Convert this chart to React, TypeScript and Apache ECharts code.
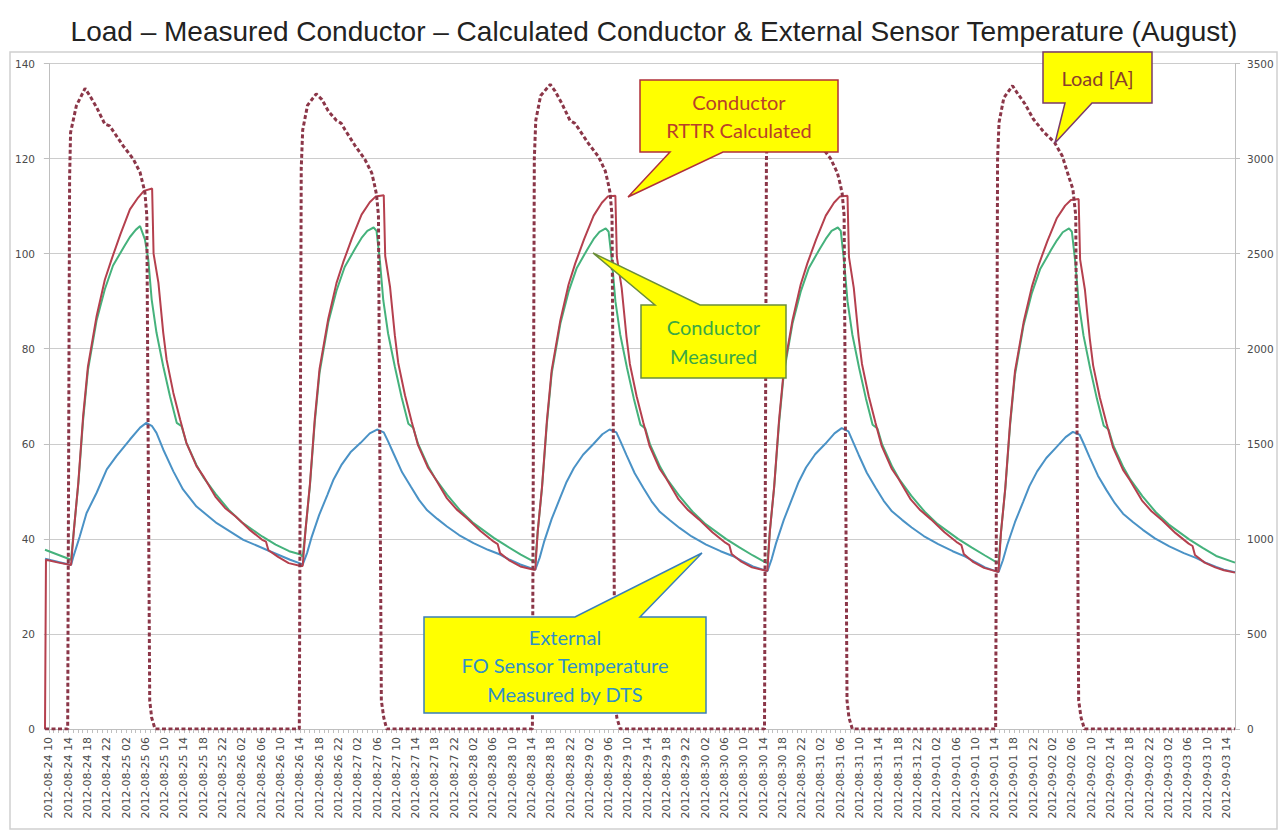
import React, { useEffect, useRef } from "react";
import * as echarts from "echarts";

const titleText = "Load – Measured Conductor – Calculated Conductor & External Sensor Temperature (August)";

const tickLabels = [
  "2012-08-24 10", "2012-08-24 14", "2012-08-24 18", "2012-08-24 22",
  "2012-08-25 02", "2012-08-25 06", "2012-08-25 10", "2012-08-25 14", "2012-08-25 18", "2012-08-25 22",
  "2012-08-26 02", "2012-08-26 06", "2012-08-26 10", "2012-08-26 14", "2012-08-26 18", "2012-08-26 22",
  "2012-08-27 02", "2012-08-27 06", "2012-08-27 10", "2012-08-27 14", "2012-08-27 18", "2012-08-27 22",
  "2012-08-28 02", "2012-08-28 06", "2012-08-28 10", "2012-08-28 14", "2012-08-28 18", "2012-08-28 22",
  "2012-08-29 02", "2012-08-29 06", "2012-08-29 10", "2012-08-29 14", "2012-08-29 18", "2012-08-29 22",
  "2012-08-30 02", "2012-08-30 06", "2012-08-30 10", "2012-08-30 14", "2012-08-30 18", "2012-08-30 22",
  "2012-08-31 02", "2012-08-31 06", "2012-08-31 10", "2012-08-31 14", "2012-08-31 18", "2012-08-31 22",
  "2012-09-01 02", "2012-09-01 06", "2012-09-01 10", "2012-09-01 14", "2012-09-01 18", "2012-09-01 22",
  "2012-09-02 02", "2012-09-02 06", "2012-09-02 10", "2012-09-02 14", "2012-09-02 18", "2012-09-02 22",
  "2012-09-03 02", "2012-09-03 06", "2012-09-03 10", "2012-09-03 14",
];

// [hours since 2012-08-24 10:00, value]
const conductorCalculated = [
  [-0.8, 0], [-0.6, 35.6], [2, 35], [4.6, 34.5], [5.2, 42], [6.1, 51.8], [7.1, 65.8], [8.1, 76.3], [9.9, 86.9], [11.6, 94.5], [13, 98.8], [14.8, 104], [16.8, 109.3], [18.5, 111.8], [19.7, 113.2], [21.4, 113.7], [21.7, 100], [22.7, 93.9], [23.7, 83.4], [24.4, 77.7], [25.8, 70.7], [27.2, 65.1], [28.5, 60.2], [30.6, 55.3], [32, 53.2], [34.5, 48.9], [36.5, 46.5], [38.7, 44.7], [41.5, 42], [44.2, 39.8], [45, 39.4], [45.5, 37.6], [47.5, 36.2], [49.7, 34.9], [52.2, 34.3],
  [52.6, 34.3], [53.2, 42], [54.1, 51.5], [55.1, 65.2], [56.1, 75.8], [57.9, 86.3], [59.6, 93.8], [61, 98.2], [62.8, 103.2], [64.8, 108.2], [66.5, 110.8], [67.7, 112], [69.4, 112.3], [69.7, 99.5], [70.7, 93], [71.7, 82.8], [72.4, 77], [73.8, 70.2], [75.2, 64.6], [76.5, 59.7], [78.6, 54.9], [80, 52.8], [82.5, 48.5], [84.5, 46.2], [86.7, 44.3], [89.5, 41.6], [92.2, 39.4], [93, 38.9], [93.5, 37], [95.5, 35.4], [97.7, 34.2], [100.5, 33.5],
  [100.8, 33.5], [101.3, 41.5], [102.2, 51], [103.2, 64.8], [104.2, 75.5], [106, 86], [107.7, 93.5], [109.1, 98], [110.9, 103], [112.9, 108], [114.6, 110.7], [115.8, 112], [117.4, 112.2], [117.7, 99.3], [118.7, 92.8], [119.7, 82.5], [120.4, 76.8], [121.8, 70], [123.2, 64.4], [124.5, 59.5], [126.6, 54.7], [128, 52.6], [130.5, 48.3], [132.5, 46], [134.7, 44.1], [137.5, 41.4], [140.2, 39.2], [141, 38.7], [141.5, 36.8], [143.5, 35.2], [145.7, 34], [148.6, 33.3],
  [148.9, 33.3], [149.4, 41.5], [150.3, 51], [151.3, 64.8], [152.3, 75.5], [154.1, 86], [155.8, 93.5], [157.2, 98], [159, 103], [161, 108], [162.7, 110.7], [163.9, 112], [165.5, 112.2], [165.8, 99.3], [166.8, 92.8], [167.8, 82.5], [168.5, 76.8], [169.9, 70], [171.3, 64.4], [172.6, 59.5], [174.7, 54.7], [176.1, 52.6], [178.6, 48.3], [180.6, 46], [182.8, 44.1], [185.6, 41.4], [188.3, 39.2], [189.1, 38.7], [189.6, 36.8], [191.6, 35.1], [193.8, 33.9], [196.5, 33.1],
  [196.8, 33.1], [197.3, 41.3], [198.2, 50.8], [199.2, 64.5], [200.2, 75.2], [202, 85.6], [203.7, 93], [205.1, 97.6], [206.9, 102.6], [208.9, 107.5], [210.6, 110.1], [211.8, 111.3], [213.4, 111.5], [213.7, 98.8], [214.7, 92.4], [215.7, 82.2], [216.4, 76.5], [217.8, 69.7], [219.2, 64.2], [220.5, 59.3], [222.6, 54.5], [224, 52.4], [226.5, 48.1], [228.5, 45.8], [230.7, 43.9], [233.5, 41.2], [236.2, 39], [237, 38.5], [237.5, 36.6], [239.5, 35], [241.7, 34], [243.5, 33.4], [245.8, 32.9],
];

const conductorMeasured = [
  [-0.8, 37.7], [4.6, 35.6], [5.2, 42], [6.1, 51.5], [7.1, 65], [8.1, 75.5], [9.9, 86], [11.6, 92.5], [13.3, 97.5], [15.6, 101.5], [16.8, 103.5], [18, 105], [18.9, 105.8], [19.9, 103], [20.6, 98.8], [21.3, 90.4], [22.3, 83.4], [23.7, 76.3], [25.1, 70], [26.5, 64.4], [27.5, 63.7], [28.5, 60.2], [30.6, 55.5], [32, 53], [34.5, 49.5], [37.3, 46.1], [40, 43.5], [44.2, 40.5], [47, 38.8], [49.8, 37.4], [52.2, 36.7],
  [52.6, 36.2], [53.2, 42], [54.1, 51.2], [55.1, 64.5], [56.1, 75], [57.9, 85.5], [59.6, 92.2], [61.3, 97.2], [63.6, 101.3], [64.8, 103.3], [66, 104.8], [67.3, 105.5], [67.9, 104.8], [68.6, 98.5], [69.3, 90.2], [70.3, 83.2], [71.7, 76.2], [73.1, 69.8], [74.5, 64.2], [75.5, 63.4], [76.5, 60], [78.6, 55.3], [80, 52.8], [82.5, 49.3], [85.3, 45.9], [88, 43.3], [92.2, 40.2], [95, 38.4], [97.8, 36.7], [100.5, 35.2],
  [100.8, 35], [101.3, 41.5], [102.2, 50.8], [103.2, 64.2], [104.2, 74.8], [106, 85.3], [107.7, 92], [109.4, 97], [111.7, 101.1], [112.9, 103.1], [114.1, 104.6], [115.4, 105.3], [116, 104.6], [116.7, 98.3], [117.4, 90], [118.4, 83], [119.8, 76], [121.2, 69.6], [122.6, 64], [123.6, 63.2], [124.6, 59.8], [126.7, 55.1], [128.1, 52.6], [130.6, 49.1], [133.4, 45.7], [136.1, 43.1], [140.3, 40], [143.1, 38.2], [145.9, 36.5], [148.6, 35],
  [148.9, 34.9], [149.4, 41.5], [150.3, 50.8], [151.3, 64.2], [152.3, 74.8], [154.1, 85.3], [155.8, 92], [157.5, 97], [159.8, 101.1], [161, 103.1], [162.2, 104.8], [163.5, 105.5], [164.1, 104.8], [164.8, 98.3], [165.5, 90], [166.5, 83], [167.9, 76], [169.3, 69.6], [170.7, 64], [171.7, 63.2], [172.7, 59.8], [174.8, 55.1], [176.2, 52.6], [178.7, 49.1], [181.5, 45.7], [184.2, 43.1], [188.4, 40], [191.2, 38.2], [194, 36.5], [196.5, 35],
  [196.8, 34.9], [197.3, 41.3], [198.2, 50.5], [199.2, 64], [200.2, 74.5], [202, 85], [203.7, 91.7], [205.4, 96.7], [207.7, 100.8], [208.9, 102.8], [210.1, 104.5], [211.4, 105.3], [212, 104.6], [212.7, 98.2], [213.4, 89.8], [214.4, 82.8], [215.8, 75.8], [217.2, 69.4], [218.6, 63.8], [219.6, 63], [220.6, 59.6], [222.7, 55], [224.1, 52.5], [226.6, 49], [229.4, 45.6], [232.1, 43], [236.3, 39.9], [239.1, 38.1], [241.9, 36.4], [245.8, 35],
];

const externalSensor = [
  [-0.8, 35.8], [4.6, 34.5], [5, 36], [6.4, 40.5], [7.8, 45.4], [9.9, 49.7], [12, 54.6], [14, 57.4], [16.8, 60.9], [18.9, 63.4], [20.2, 64.4], [21.4, 63.7], [22.3, 62.3], [23.7, 58.8], [25.8, 54.2], [27.8, 50.4], [30.6, 46.8], [34.8, 43.3], [40.3, 39.8], [45.8, 37.4], [50, 35.6], [52.2, 34.8],
  [52.6, 34.6], [53.5, 37], [54.4, 40.2], [56, 45], [57.7, 49.2], [59, 52.5], [60.6, 55.5], [62.5, 58.2], [64.6, 60.2], [66.5, 62.2], [68, 63], [69.4, 62.4], [70.3, 60.5], [71.5, 57.8], [73.2, 54], [75, 51], [76.7, 48.2], [78.4, 46], [80.5, 44.2], [82.5, 42.6], [85, 40.8], [88, 39.1], [91, 37.7], [93.5, 36.7], [95.5, 35.6], [97.7, 34.6], [100.5, 33.6],
  [100.8, 33.5], [101.7, 36], [102.6, 39.3], [104.2, 44.2], [105.9, 48.5], [107.2, 51.8], [108.8, 54.9], [110.7, 57.7], [112.8, 59.9], [114.7, 62], [116.2, 63], [117.6, 62.4], [118.5, 60.4], [119.7, 57.6], [121.4, 53.8], [123.2, 50.7], [124.9, 47.9], [126.6, 45.7], [128.7, 43.9], [130.7, 42.3], [133.2, 40.5], [136.2, 38.8], [139.2, 37.4], [141.7, 36.4], [143.7, 35.3], [145.9, 34.2], [148.6, 33.3],
  [148.9, 33.2], [149.8, 35.8], [150.7, 39.1], [152.3, 44], [154, 48.4], [155.3, 51.8], [156.9, 55], [158.8, 57.8], [160.9, 60], [162.8, 62.2], [164.3, 63.3], [165.7, 62.6], [166.6, 60.5], [167.8, 57.7], [169.5, 53.9], [171.3, 50.8], [173, 48], [174.7, 45.8], [176.8, 44], [178.8, 42.4], [181.3, 40.6], [184.3, 38.9], [187.3, 37.4], [189.8, 36.3], [191.8, 35.2], [194, 34], [196.5, 33.1],
  [196.8, 33], [197.7, 35.5], [198.6, 38.7], [200.2, 43.5], [201.9, 47.8], [203.2, 51.1], [204.8, 54.2], [206.7, 57], [208.8, 59.3], [210.7, 61.4], [212.2, 62.5], [213.6, 61.9], [214.5, 59.9], [215.7, 57.1], [217.4, 53.3], [219.2, 50.2], [220.9, 47.5], [222.6, 45.3], [224.7, 43.5], [226.7, 41.9], [229.2, 40.1], [232.2, 38.4], [235.2, 37], [237.7, 36], [239.7, 35], [241.9, 34.1], [243.5, 33.5], [245.8, 33],
];

const loadAmps = [
  [-0.8, 0], [3.9, 0], [4.3, 2900], [4.5, 3137], [5.7, 3278], [7.5, 3369], [8.5, 3330], [9.9, 3269], [11.6, 3181], [12.6, 3172], [13.3, 3146], [15.4, 3067], [17.5, 2997], [18.9, 2927], [19.5, 2865], [19.9, 2822], [20.3, 2700], [20.9, 150], [21.3, 60], [22, 0],
  [51.9, 0], [52.3, 2950], [52.6, 3150], [53.6, 3280], [55.4, 3340], [56.6, 3310], [57.9, 3250], [59.6, 3200], [60.6, 3185], [61.4, 3150], [63.4, 3070], [65.5, 2995], [66.9, 2925], [67.5, 2860], [67.9, 2810], [68.3, 2700], [68.9, 150], [69.4, 60], [70, 0],
  [100.2, 0], [100.6, 3000], [100.9, 3200], [101.9, 3330], [103.9, 3390], [104.9, 3355], [106.3, 3290], [108, 3200], [109, 3185], [109.7, 3160], [111.8, 3080], [113.9, 3010], [115.3, 2935], [115.9, 2870], [116.3, 2820], [116.7, 2700], [117.3, 150], [117.7, 60], [118.4, 0],
  [148.3, 0], [148.7, 3000], [149, 3190], [150, 3320], [152, 3380], [153, 3345], [154.4, 3280], [156.1, 3195], [157.1, 3180], [157.8, 3150], [159.9, 3070], [162, 3000], [163.4, 2925], [164, 2865], [164.4, 2815], [164.8, 2700], [165.4, 150], [165.8, 60], [166.5, 0],
  [196.2, 0], [196.6, 3000], [196.9, 3190], [197.9, 3320], [199.7, 3383], [200.8, 3340], [202.3, 3287], [204, 3208], [206.2, 3139], [208.4, 3085], [210, 3014], [211.3, 2909], [212.2, 2840], [212.8, 2700], [213.4, 150], [213.9, 60], [214.6, 0], [245.8, 0],
];

const leftTicks = [0, 20, 40, 60, 80, 100, 120, 140];
const rightTicks = [0, 500, 1000, 1500, 2000, 2500, 3000, 3500];

type Callout = {
  lines: string[];
  box: [number, number, number, number];
  base: [number, number];
  tip: [number, number];
  side: "top" | "bottom";
  color: string;
  border: string;
};

const callouts: Callout[] = [
  { lines: ["Conductor", "RTTR Calculated"], box: [640, 80, 838, 152], base: [670, 723], tip: [628, 197], side: "bottom", color: "#b8402a", border: "#b0303a" },
  { lines: ["Conductor", "Measured"], box: [641, 305, 786, 378], base: [655, 700], tip: [593, 253], side: "top", color: "#3aa845", border: "#6b8e3a" },
  { lines: ["External", "FO Sensor Temperature", "Measured by DTS"], box: [424, 617, 706, 713], base: [575, 640], tip: [702, 553], side: "top", color: "#2f8fc8", border: "#3a7fb8" },
  { lines: ["Load [A]"], box: [1043, 52, 1152, 103], base: [1065, 1092], tip: [1055, 143], side: "bottom", color: "#8a3f2a", border: "#7a3a6a" },
];

function calloutGraphics(c: Callout) {
  const [x0, y0, x1, y1] = c.box;
  const [b0, b1] = c.base;
  const pts =
    c.side === "bottom"
      ? [[x0, y0], [x1, y0], [x1, y1], [b1, y1], c.tip, [b0, y1], [x0, y1]]
      : [[x0, y0], [b0, y0], c.tip, [b1, y0], [x1, y0], [x1, y1], [x0, y1]];
  const lh = 28.5;
  const cx = (x0 + x1) / 2;
  const cy = (y0 + y1) / 2;
  const startY = cy - ((c.lines.length - 1) * lh) / 2;
  return [
    {
      type: "polygon",
      shape: { points: pts },
      style: { fill: "#ffff00", stroke: c.border, lineWidth: 1.5 },
      z: 100,
    },
    ...c.lines.map((t, i) => ({
      type: "text",
      x: cx,
      y: startY + i * lh,
      style: {
        text: t,
        fill: c.color,
        font: '20px Lato, "Noto Sans", sans-serif',
        textAlign: "center",
        textVerticalAlign: "middle",
      },
      z: 101,
    })),
  ];
}

export default function App() {
  const ref = useRef<HTMLDivElement>(null);
  useEffect(() => {
    if (!ref.current) return;
    const chart = echarts.init(ref.current, null, { renderer: "svg" });
    const labelHours = tickLabels.map((_, i) => i * 4);
    const hourTicks: number[] = [];
    for (let h = 0; h <= 245; h++) hourTicks.push(h);
    const axisGray = "#bfbfbf";
    const labelFont = { fontFamily: '"DejaVu Sans", sans-serif', fontSize: 11, color: "#4a4a4a" };
    chart.setOption({
      animation: false,
      backgroundColor: "#ffffff",
      title: {
        text: titleText,
        left: 649,
        top: 12,
        textAlign: "center",
        textStyle: { fontFamily: '"Liberation Sans", Arial, sans-serif', fontSize: 28, fontWeight: "normal", color: "#222222" },
      },
      grid: { left: 45, right: 49, top: 63.5, bottom: 101, containLabel: false },
      xAxis: {
        type: "value",
        min: -0.8,
        max: 245.8,
        axisLine: { show: true, onZero: false, lineStyle: { color: axisGray, width: 1 } },
        axisTick: { show: true, customValues: hourTicks, length: 4, lineStyle: { color: axisGray } },
        axisLabel: {
          customValues: labelHours,
          rotate: 90,
          margin: 8,
          ...labelFont,
          formatter: (v: number) => tickLabels[Math.round(v / 4)] ?? "",
        },
        splitLine: { show: false },
      },
      yAxis: [
        {
          type: "value",
          min: leftTicks[0],
          max: leftTicks[leftTicks.length - 1],
          interval: 20,
          axisLine: { show: true, lineStyle: { color: axisGray } },
          axisTick: { show: true, length: 5, lineStyle: { color: axisGray } },
          axisLabel: { margin: 10, ...labelFont, fontSize: 10.5, formatter: (v: number) => String(v) },
          splitLine: { show: true, lineStyle: { color: "#cccccc", width: 1.2 } },
        },
        {
          type: "value",
          min: rightTicks[0],
          max: rightTicks[rightTicks.length - 1],
          interval: 500,
          position: "right",
          axisLine: { show: true, lineStyle: { color: axisGray } },
          axisTick: { show: true, length: 5, lineStyle: { color: axisGray } },
          axisLabel: { margin: 12, ...labelFont, fontSize: 10.5, formatter: (v: number) => String(v) },
          splitLine: { show: false },
        },
      ],
      series: [
        {
          name: "External FO Sensor Temperature",
          type: "line",
          yAxisIndex: 0,
          data: externalSensor,
          showSymbol: false,
          lineStyle: { color: "#4a92c6", width: 2 },
        },
        {
          name: "Conductor Measured",
          type: "line",
          yAxisIndex: 0,
          data: conductorMeasured,
          showSymbol: false,
          lineStyle: { color: "#45b27c", width: 2 },
        },
        {
          name: "Conductor RTTR Calculated",
          type: "line",
          yAxisIndex: 0,
          data: conductorCalculated,
          showSymbol: false,
          lineStyle: { color: "#b5404e", width: 2 },
        },
        {
          name: "Load [A]",
          type: "line",
          yAxisIndex: 1,
          data: loadAmps,
          showSymbol: false,
          lineStyle: { color: "#8b3648", width: 3, type: [4, 2.5] },
        },
      ],
      graphic: [
        {
          type: "rect",
          shape: { x: 10, y: 52, width: 1267, height: 777 },
          style: { fill: "none", stroke: "#d0d0d0", lineWidth: 1.5 },
          z: -1,
        },
        ...callouts.flatMap(calloutGraphics),
      ],
    });
    return () => chart.dispose();
  }, []);
  return (
    <div
      ref={ref}
      style={{ position: "fixed", left: 0, top: 0, width: 1284, height: 830, background: "#fff" }}
    />
  );
}
